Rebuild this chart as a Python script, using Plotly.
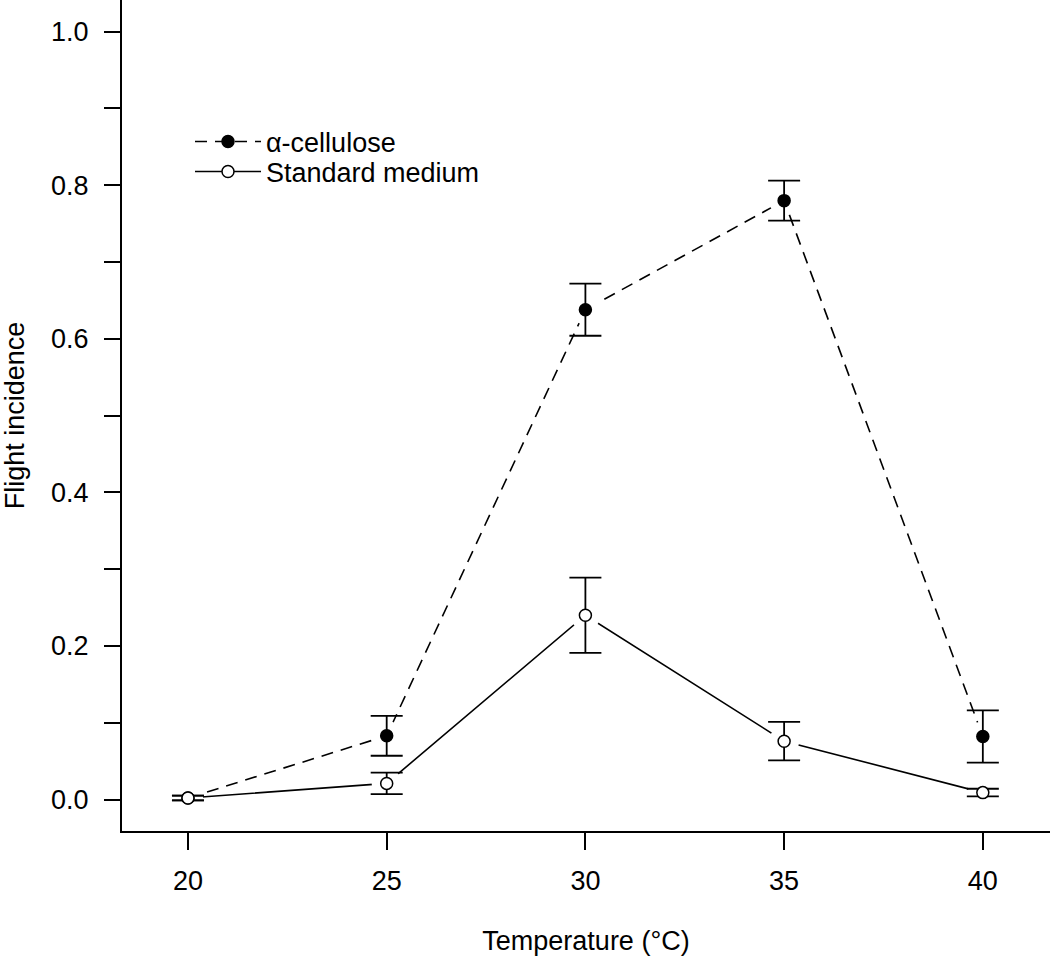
import plotly.graph_objects as go

temperature = [20, 25, 30, 35, 40]
cellulose = [0.002, 0.083, 0.638, 0.780, 0.082]
cellulose_se = [0.003, 0.026, 0.034, 0.026, 0.034]
standard = [0.002, 0.021, 0.240, 0.076, 0.009]
standard_se = [0.003, 0.014, 0.049, 0.025, 0.005]

y_ticks = [round(i * 0.1, 1) for i in range(11)]
y_ticktext = [f"{v:.1f}" if i % 2 == 0 else "" for i, v in enumerate(y_ticks)]
x_ticks = [20, 25, 30, 35, 40]

FONT = "Liberation Sans, Arial, Helvetica, sans-serif"
FS = 27

fig = go.Figure()

series = [
    ("α-cellulose", cellulose, cellulose_se, "12px,8px", "black", "legend"),
    ("Standard medium", standard, standard_se, "solid", "white", "legend2"),
]

# connecting lines (legend entries)
for name, vals, se, dash, fill, leg in series:
    fig.add_trace(go.Scatter(
        x=temperature, y=vals, mode="lines+markers", name=name,
        line=dict(color="black", width=1.6, dash=dash),
        marker=dict(size=12, color=fill, line=dict(color="black", width=1.5)),
        showlegend=True, legend=leg,
    ))

# white halos to create gaps in lines near points
for name, vals, se, dash, fill, leg in series:
    fig.add_trace(go.Scatter(
        x=temperature, y=vals, mode="markers",
        marker=dict(size=30, color="white", line=dict(width=0)),
        showlegend=False, hoverinfo="skip",
    ))

# points with error bars
for name, vals, se, dash, fill, leg in series:
    fig.add_trace(go.Scatter(
        x=temperature, y=vals, mode="markers",
        marker=dict(size=12, color=fill, line=dict(color="black", width=1.5)),
        error_y=dict(type="data", array=se, visible=True, color="black",
                     thickness=1.8, width=16),
        showlegend=False,
    ))

leg_common = dict(xanchor="left", yanchor="middle", bgcolor="rgba(0,0,0,0)",
                  font=dict(size=FS), itemwidth=66, borderwidth=0)

fig.update_layout(
    width=1050, height=959,
    margin=dict(l=122, r=0, t=0, b=128),
    paper_bgcolor="white", plot_bgcolor="white",
    font=dict(family=FONT, size=FS, color="black"),
    legend=dict(x=(190 - 122) / 928, y=1 - 142 / 831, **leg_common),
    legend2=dict(x=(190 - 122) / 928, y=1 - 172 / 831, **leg_common),
    xaxis=dict(
        range=[18.34, 41.69], tickvals=x_ticks, ticktext=[str(v) for v in x_ticks],
        showline=True, linecolor="black", linewidth=2, mirror=False,
        ticks="outside", ticklen=17, tickwidth=2, tickcolor="black",
        showgrid=False, zeroline=False, ticklabelstandoff=8,
        title=dict(text="Temperature (°C)", standoff=36, font=dict(size=FS)),
    ),
    yaxis=dict(
        range=[-0.041, 1.0413], tickvals=y_ticks, ticktext=y_ticktext,
        showline=True, linecolor="black", linewidth=2, mirror=False,
        ticks="outside", ticklen=16, tickwidth=2, tickcolor="black",
        showgrid=False, zeroline=False, ticklabelstandoff=10,
        title=dict(text="Flight incidence", standoff=28, font=dict(size=FS)),
    ),
)

fig.write_html("out.html", config={"displayModeBar": False},
               post_script="document.body.style.margin='0';")
